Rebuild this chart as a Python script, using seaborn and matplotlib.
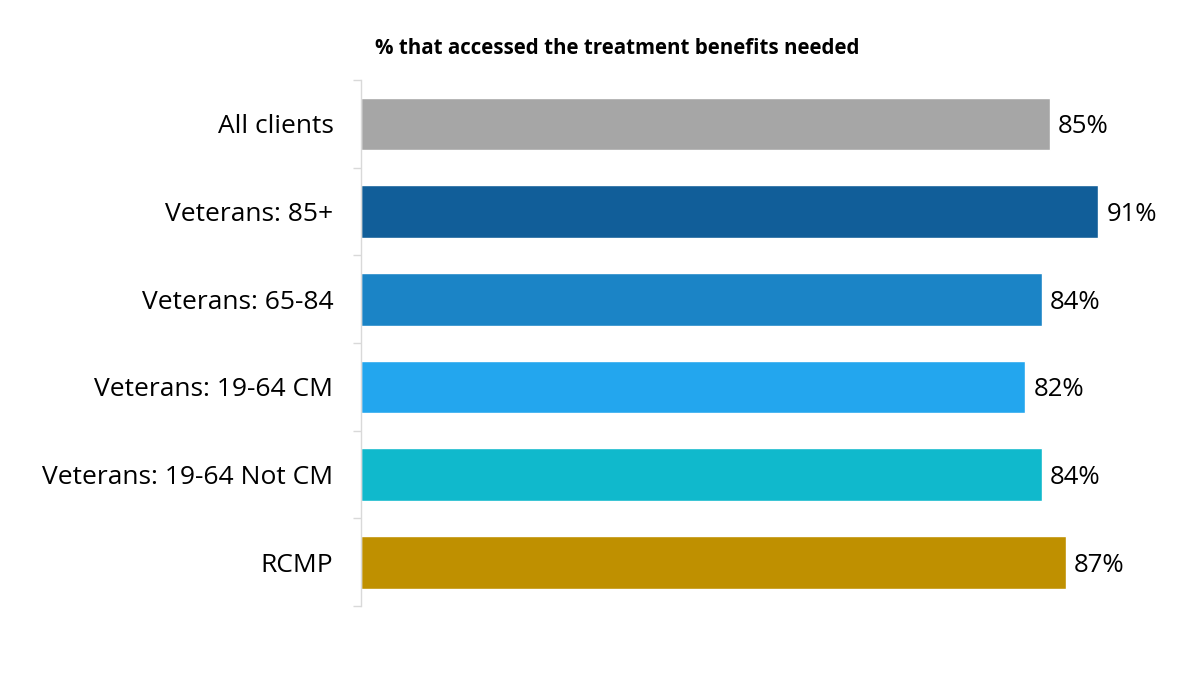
import numpy as np
import pandas as pd
import matplotlib.pyplot as plt
import seaborn as sns

# dati
gruppi = ["All clients", "Veterans: 85+", "Veterans: 65-84", "Veterans: 19-64 CM",
          "Veterans: 19-64 Not CM", "RCMP"]
valori = [85, 91, 84, 82, 84, 87]
colori = ["#A6A6A6", "#115E99", "#1B84C6", "#23A6EE", "#10B9CC", "#BF9000"]

df = pd.DataFrame({"gruppo": gruppi, "valore": valori})

sns.set_theme(style="white")
plt.rcParams["font.family"] = ["Open Sans", "DejaVu Sans"]

fig = plt.figure(figsize=(12, 6.75), dpi=100)
ax = fig.add_axes([0.301, 0.102, 0.675, 0.7795])

sns.barplot(data=df, x="valore", y="gruppo", hue="gruppo", palette=colori,
            legend=False, width=0.6, orient="h", ax=ax, saturation=1)

for i, v in enumerate(valori):
    ax.text(v + 1.0, i, f"{v}%", va="center_baseline", ha="left", fontsize=18.5, color="black")

ax.set_xlim(0, 100)
ax.set_ylim(len(gruppi) - 0.5, -0.5)
ax.set_xlabel("")
ax.set_ylabel("")
ax.set_xticks([])

# etichette senza tacche, tacche ai bordi delle categorie
ax.tick_params(axis="y", which="major", length=0, pad=20, labelsize=19, labelcolor="black")
ax.set_yticks(np.arange(-0.5, len(gruppi)), minor=True)
ax.tick_params(axis="y", which="minor", length=6, color="#D9D9D9", width=1, left=True)

for s in ["top", "right", "bottom"]:
    ax.spines[s].set_visible(False)
ax.spines["left"].set_color("#D9D9D9")
ax.spines["left"].set_linewidth(1)

fig.text(0.3125, 0.928, "% that accessed the treatment benefits needed",
         fontsize=14.8, fontweight="bold", ha="left", va="center", color="black")

plt.savefig("out.png", dpi=100)
plt.close()
